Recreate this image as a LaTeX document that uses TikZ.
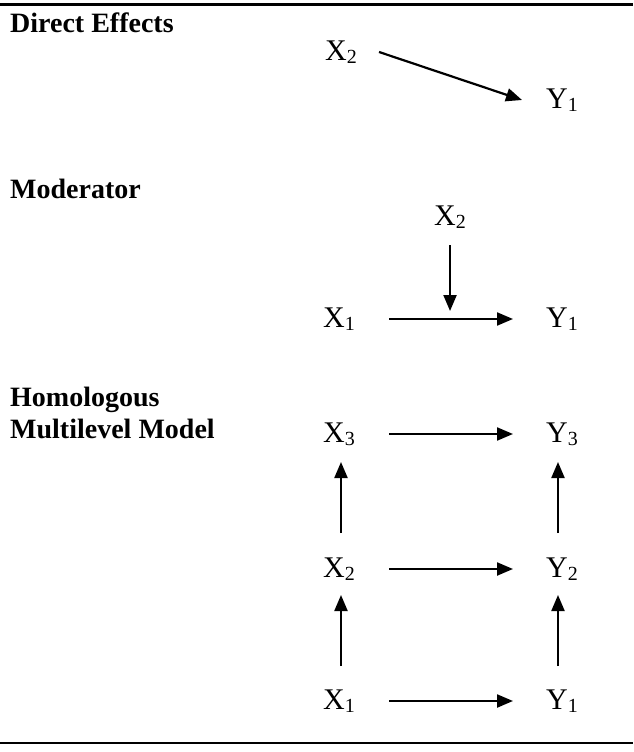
\documentclass[tikz,border=0pt]{standalone}
\usepackage{fontspec}
\setmainfont{Liberation Serif}
\usetikzlibrary{arrows.meta}
\newcommand\subs[1]{\raisebox{-3pt}{\fontsize{20}{20}\selectfont #1}}
\begin{document}
\begin{tikzpicture}[x=1pt,y=-1pt,
  var/.style={anchor=base west, inner sep=0pt, font=\fontsize{30}{34}\selectfont},
  head/.style={anchor=base west, inner sep=0pt, font=\fontsize{28}{32}\selectfont\bfseries},
  arr/.style={line width=2.2pt, -{Triangle[length=16pt,width=13pt]}},
  rulebar/.style={line width=2.5pt}]
\useasboundingbox (0,0) rectangle (633,752);
\fill[white] (0,0) rectangle (633,752);
% rules
\draw[rulebar] (0,4.5) -- (633,4.5);
\draw[rulebar] (0,743) -- (633,743);
% headings
\node[head] (hde) at (10,33) {Direct Effects};
\node[head] (hmo) at (10,198) {Moderator};
\node[head] (hho) at (10,406) {Homologous};
\node[head] (hmu) at (10,438) {Multilevel Model};
% direct effects
\node[var] (dx2) at (325,60) {X\subs{2}};
\node[var] (dy1) at (546,108) {Y\subs{1}};
\draw[arr] ([xshift=22pt,yshift=8pt]dx2.base east) -- ([xshift=-24pt,yshift=8pt]dy1.base west);
% moderator
\node[var] (mx2) at (434,225) {X\subs{2}};
\node[var] (mx1) at (323,327) {X\subs{1}};
\node[var] (my1) at (546,327) {Y\subs{1}};
\draw[arr] ([xshift=34pt,yshift=8pt]mx1.base east) -- ([xshift=-33pt,yshift=8pt]my1.base west);
\coordinate (mmid) at ([yshift=8pt]mx2.base |- mx1.base);
\draw[arr, shorten >=8pt] ([yshift=-20pt]mx2.base) -- (mmid);
% homologous
\node[var] (hx3) at (323,442) {X\subs{3}};
\node[var] (hy3) at (546,442) {Y\subs{3}};
\node[var] (hx2) at (323,577) {X\subs{2}};
\node[var] (hy2) at (546,577) {Y\subs{2}};
\node[var] (hx1) at (323,709) {X\subs{1}};
\node[var] (hy1) at (546,709) {Y\subs{1}};
\draw[arr] ([xshift=34pt,yshift=8pt]hx3.base east) -- ([xshift=-33pt,yshift=8pt]hy3.base west);
\draw[arr] ([xshift=34pt,yshift=8pt]hx2.base east) -- ([xshift=-33pt,yshift=8pt]hy2.base west);
\draw[arr] ([xshift=34pt,yshift=8pt]hx1.base east) -- ([xshift=-33pt,yshift=8pt]hy1.base west);
\draw[arr] ([xshift=18pt,yshift=43pt]hx1.base west) -- ([xshift=18pt,yshift=-18pt]hx2.base west);
\draw[arr] ([xshift=18pt,yshift=44pt]hx2.base west) -- ([xshift=18pt,yshift=-20pt]hx3.base west);
\draw[arr] ([xshift=12pt,yshift=43pt]hy1.base west) -- ([xshift=12pt,yshift=-18pt]hy2.base west);
\draw[arr] ([xshift=12pt,yshift=44pt]hy2.base west) -- ([xshift=12pt,yshift=-20pt]hy3.base west);
\end{tikzpicture}
\end{document}
